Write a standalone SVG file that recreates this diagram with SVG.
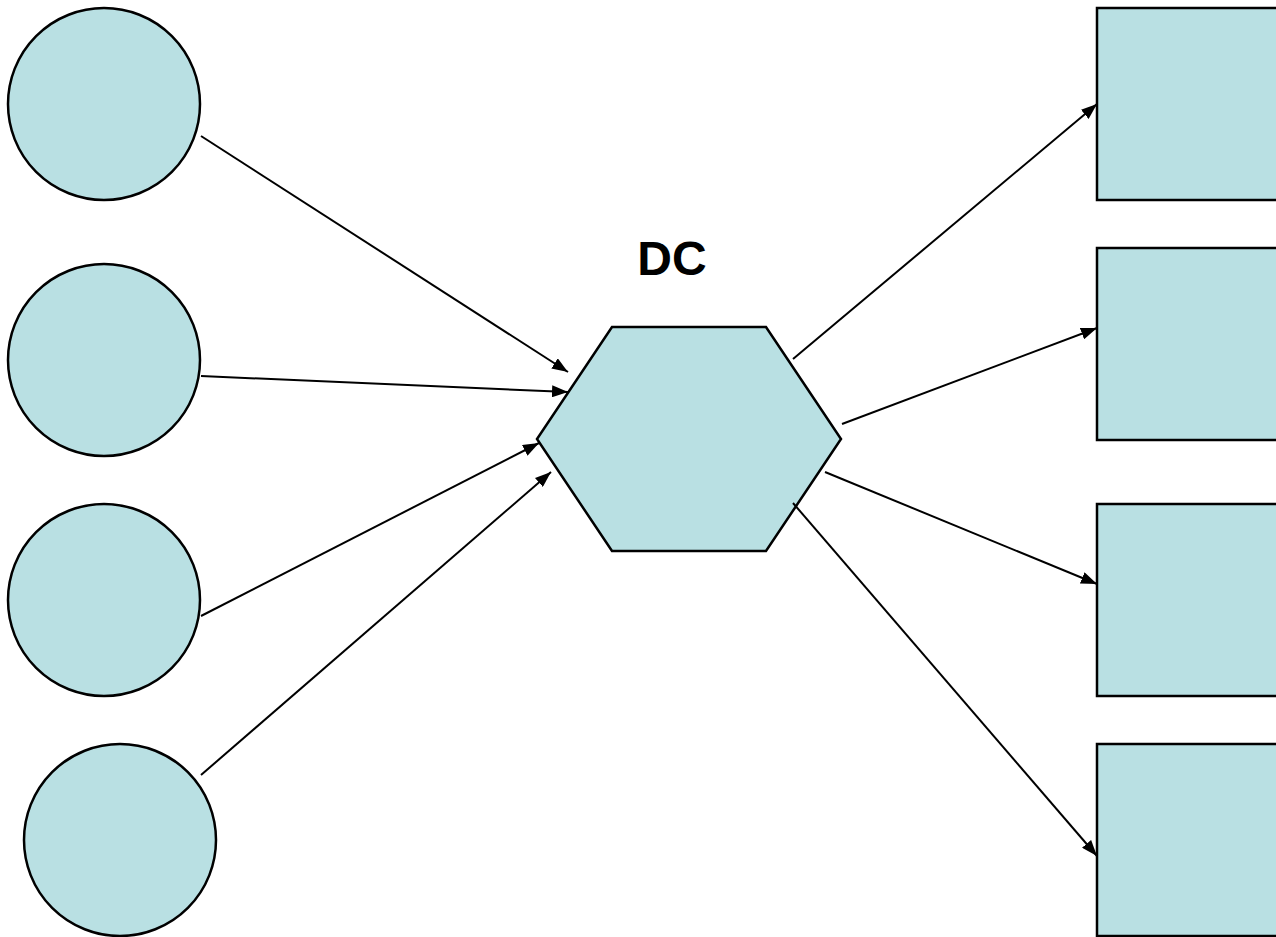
<svg xmlns="http://www.w3.org/2000/svg" width="1276" height="937" viewBox="0 0 1276 937">
  <defs>
    <marker id="arrow" viewBox="0 0 16 12" refX="16" refY="6" markerWidth="16" markerHeight="12" markerUnits="userSpaceOnUse" orient="auto">
      <path d="M0,0 L16,6 L0,12 z" fill="#000"/>
    </marker>
    <style>
      .node { fill: #B9E0E3; stroke: #000; stroke-width: 2.5; }
      .edge { stroke: #000; stroke-width: 2; fill: none; marker-end: url(#arrow); }
      .label { font-family: "Liberation Sans", Arial, sans-serif; font-weight: bold; font-size: 48px; fill: #000; }
    </style>
  </defs>
  <rect width="1276" height="937" fill="#fff"/>

  <!-- sources -->
  <g id="src1"><circle class="node" cx="104" cy="104" r="96"/></g>
  <g id="src2"><circle class="node" cx="104" cy="360" r="96"/></g>
  <g id="src3"><circle class="node" cx="104" cy="600" r="96"/></g>
  <g id="src4"><circle class="node" cx="120" cy="840" r="96"/></g>

  <!-- distribution centre -->
  <g id="dc">
    <polygon class="node" points="612,327 766,327 841,439 766,551 612,551 537,439"/>
    <text class="label" x="672" y="275" text-anchor="middle">DC</text>
  </g>

  <!-- destinations -->
  <g id="dst1"><rect class="node" x="1097" y="8" width="192" height="192"/></g>
  <g id="dst2"><rect class="node" x="1097" y="248" width="192" height="192"/></g>
  <g id="dst3"><rect class="node" x="1097" y="504" width="192" height="192"/></g>
  <g id="dst4"><rect class="node" x="1097" y="744" width="192" height="192"/></g>

  <!-- connectors -->
  <g id="connectors">
    <line class="edge" x1="201" y1="136" x2="568" y2="372"/>
    <line class="edge" x1="201" y1="376" x2="568" y2="392"/>
    <line class="edge" x1="201" y1="616" x2="539" y2="443"/>
    <line class="edge" x1="201" y1="775" x2="551" y2="472"/>
    <line class="edge" x1="793" y1="359" x2="1097" y2="104"/>
    <line class="edge" x1="842" y1="424" x2="1097" y2="328"/>
    <line class="edge" x1="825" y1="472" x2="1097" y2="584"/>
    <line class="edge" x1="793" y1="503" x2="1097" y2="856"/>
  </g>
</svg>
